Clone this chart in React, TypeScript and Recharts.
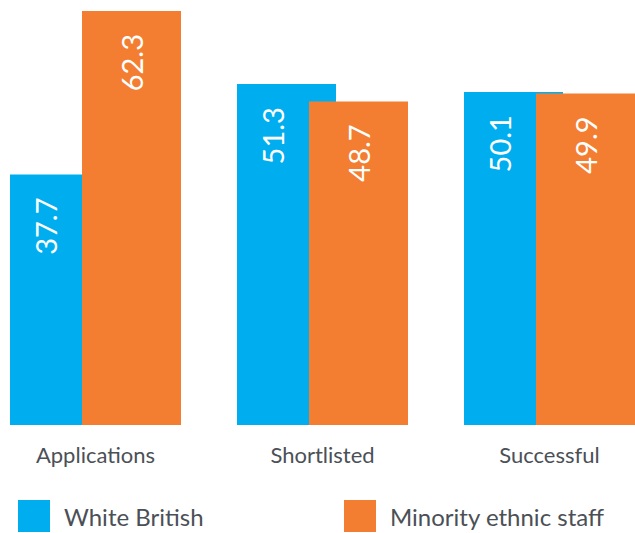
import React from "react";
import { BarChart, Bar, XAxis, YAxis, LabelList } from "recharts";

const categories = ["Applications", "Shortlisted", "Successful"];
const whiteBritish = [37.7, 51.3, 50.1];
const minorityEthnic = [62.3, 48.7, 49.9];
const seriesNames = ["White British", "Minority ethnic staff"];

const BLUE = "#00aeef";
const ORANGE = "#f37e31";
const TEXT = "#4b5056";
const FONT = "Lato, 'Open Sans', sans-serif";
const BAR_SIZE = 99;
const BAR_GAP = -27;

const data = categories.map((name, i) => ({
  name,
  white: whiteBritish[i],
  minority: minorityEthnic[i],
}));

// value label, rotated, hanging from the top of the visible part of the bar
function makeLabel(shift: number) {
  return (props: any) => {
    const { x, y, width, value } = props;
    const cx = x + (width + shift) / 2;
    const ty = y + 23;
    return (
      <text
        x={cx}
        y={ty}
        transform={`rotate(-90, ${cx}, ${ty})`}
        textAnchor="end"
        dominantBaseline="central"
        fill="#ffffff"
        fontSize={29}
        fontFamily={FONT}
      >
        {value}
      </text>
    );
  };
}

export default function App() {
  return (
    <div
      style={{
        position: "absolute",
        left: 0,
        top: 0,
        width: 635,
        height: 533,
        overflow: "hidden",
        background: "#fff",
        fontFamily: FONT,
      }}
    >
      <div style={{ position: "absolute", left: -18, top: 0 }}>
        <BarChart
          width={681}
          height={533}
          data={data}
          margin={{ top: 11, right: 0, bottom: 0, left: 0 }}
          barGap={BAR_GAP}
        >
          <XAxis
            dataKey="name"
            axisLine={false}
            tickLine={false}
            tickSize={0}
            tickMargin={22}
            height={108}
            interval={0}
            tick={{ fill: TEXT, fontSize: 22, fontFamily: FONT }}
          />
          <YAxis hide domain={[0, 62.3]} />
          <Bar dataKey="white" fill={BLUE} barSize={BAR_SIZE} isAnimationActive={false}>
            <LabelList dataKey="white" content={makeLabel(BAR_GAP)} />
          </Bar>
          <Bar dataKey="minority" fill={ORANGE} barSize={BAR_SIZE} isAnimationActive={false}>
            <LabelList dataKey="minority" content={makeLabel(0)} />
          </Bar>
        </BarChart>
      </div>
      {[BLUE, ORANGE].map((color, i) => (
        <div
          key={seriesNames[i]}
          style={{
            position: "absolute",
            left: i === 0 ? 18 : 344,
            top: 500,
            display: "flex",
            alignItems: "center",
            gap: 14,
          }}
        >
          <span style={{ width: 32, height: 32, background: color, display: "inline-block" }} />
          <span style={{ color: TEXT, fontSize: 24 }}>{seriesNames[i]}</span>
        </div>
      ))}
    </div>
  );
}
